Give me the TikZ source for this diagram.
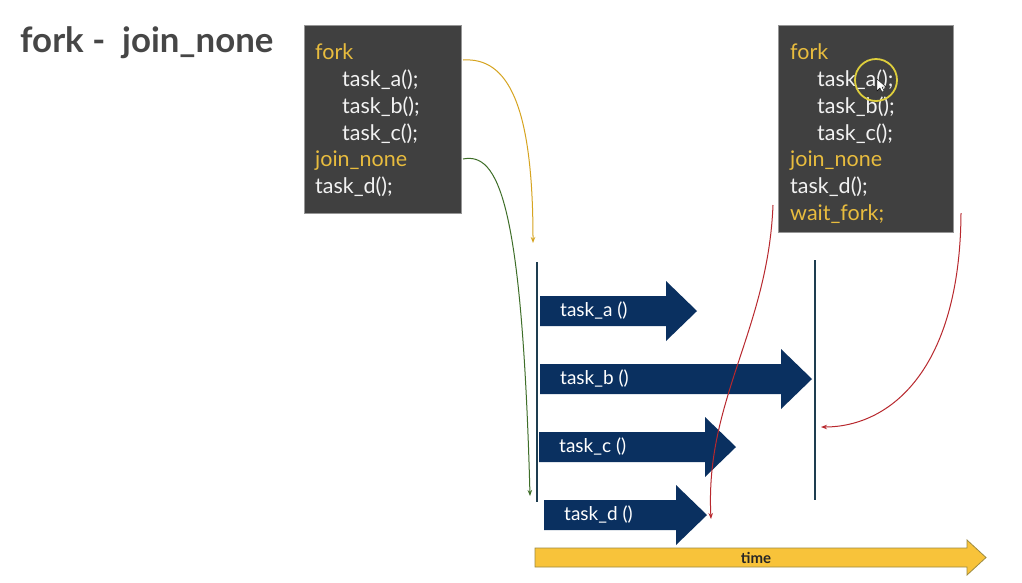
\documentclass[tikz,border=0pt]{standalone}
\usepackage{fontspec}
\setmainfont{Lato}
\usetikzlibrary{arrows.meta}
\definecolor{boxfill}{RGB}{64,64,64}
\definecolor{boxline}{RGB}{150,150,150}
\definecolor{kwyellow}{RGB}{232,188,62}
\definecolor{codewhite}{RGB}{242,242,242}
\definecolor{navy}{RGB}{10,48,96}
\definecolor{slate}{RGB}{30,61,80}
\definecolor{curveyellow}{RGB}{214,164,32}
\definecolor{curvegreen}{RGB}{62,110,40}
\definecolor{curvered}{RGB}{184,40,46}
\definecolor{timefill}{RGB}{248,195,58}
\definecolor{timeline}{RGB}{156,138,64}
\definecolor{titlegray}{RGB}{70,70,70}
\definecolor{ringyellow}{RGB}{222,206,60}
\tikzset{
  codebox/.style={draw=boxline, line width=0.8pt, fill=boxfill, anchor=north west, inner sep=0},
  kw/.style={anchor=base west, inner sep=0, text=kwyellow, font=\fontsize{21.5pt}{24pt}\selectfont},
  code/.style={anchor=base west, inner sep=0, text=codewhite, font=\fontsize{21.5pt}{24pt}\selectfont},
  tasklabel/.style={anchor=west, inner sep=0, text=white, font=\fontsize{19pt}{21pt}\selectfont},
  taskarrow/.style={fill=navy},
  bar/.style={draw=slate, line width=2.2pt},
  conn/.style={line width=1pt, -{Stealth[length=6pt,width=4.5pt]}},
}
\begin{document}
\begin{tikzpicture}[x=1pt,y=-1pt]
\useasboundingbox (0,0) rectangle (1022,582);
\fill[white] (0,0) rectangle (1022,582);

% title
\node[anchor=base west, inner sep=0, text=titlegray, font=\fontsize{34.8pt}{38pt}\selectfont\bfseries] (title) at (20,52) {fork -\ \ join\_none};

% left code box
\node[codebox, minimum width=157pt, minimum height=188pt] (lbox) at (304,25) {};
\node[kw]   (lfork) at (315,59.5) {fork};
\node[code] (la)    at (342,86.5) {task\_a();};
\node[code] (lb)    at (342,113) {task\_b();};
\node[code] (lc)    at (342,140) {task\_c();};
\node[kw]   (ljoin) at (315,166.5) {join\_none};
\node[code] (ld)    at (315,193) {task\_d();};

% right code box
\node[codebox, minimum width=175pt, minimum height=207pt] (rbox) at (778,25) {};
\node[kw]   (rfork) at (790,59.5) {fork};
\node[code] (ra)    at (817,86.5) {task\_a();};
\node[code] (rb)    at (817,113) {task\_b();};
\node[code] (rc)    at (817,140) {task\_c();};
\node[kw]   (rjoin) at (790,166.5) {join\_none};
\node[code] (rd)    at (790,193) {task\_d();};
\node[kw]   (rwait) at (790,220) {wait\_fork;};

% highlight ring and cursor
\node[draw=ringyellow, line width=1.8pt, circle, minimum size=42pt, inner sep=0] (ring) at (876,80) {};
\filldraw[fill=white, draw=black, line width=0.4pt] (877,79)--(877,91)--(880,88)--(882,92)--(884,91)--(882,87)--(886,87)--cycle;

% vertical bars
\coordinate (l1) at (537,262);
\coordinate (l2) at (537,502);
\coordinate (r1) at (815,260);
\coordinate (r2) at (815,500);
\draw[bar] (l1) -- (l2);
\draw[bar] (r1) -- (r2);

% task arrows
\fill[taskarrow] (540,296)--(666,296)--(666,281)--(697,311)--(666,341)--(666,326)--(540,326)--cycle;
\node[tasklabel] (ta) at (560,311) {task\_a ()};
\fill[taskarrow] (540,364)--(781,364)--(781,349)--(812,379)--(781,409)--(781,394)--(540,394)--cycle;
\node[tasklabel] (tb) at (560,379) {task\_b ()};
\fill[taskarrow] (539,432)--(705,432)--(705,417)--(736,447)--(705,477)--(705,462)--(539,462)--cycle;
\node[tasklabel] (tc) at (559,447) {task\_c ()};
\fill[taskarrow] (544,500)--(676,500)--(676,485)--(707,515)--(676,545)--(676,530)--(544,530)--cycle;
\node[tasklabel] (td) at (564,515) {task\_d ()};

% time arrow
\filldraw[fill=timefill, draw=timeline, line width=0.8pt] (535,548)--(967,548)--(967,540)--(986,557.5)--(967,575)--(967,567)--(535,567)--cycle;
\node[inner sep=0, font=\fontsize{15pt}{18pt}\selectfont\bfseries, text=black!85] (time) at (756,557.5) {time};

% connectors
\coordinate (ys) at (463,60);
\coordinate (ye) at (533,243);
\draw[conn, curveyellow] (ys) .. controls (508,57) and (533,105) .. (ye);
\coordinate (gs) at (463,159);
\coordinate (ge) at (530,496);
\draw[conn, curvegreen] (gs) .. controls (498,152) and (522,200) .. (ge);
\coordinate (rs1) at (773,205);
\coordinate (re1) at (711,519);
\draw[conn, curvered] (rs1) .. controls (768,330) and (705,400) .. (re1);
\coordinate (rs2) at (961,213);
\coordinate (re2) at (821,427);
\draw[conn, curvered] (rs2) .. controls (960,370) and (890,427) .. (re2);
\end{tikzpicture}
\end{document}
